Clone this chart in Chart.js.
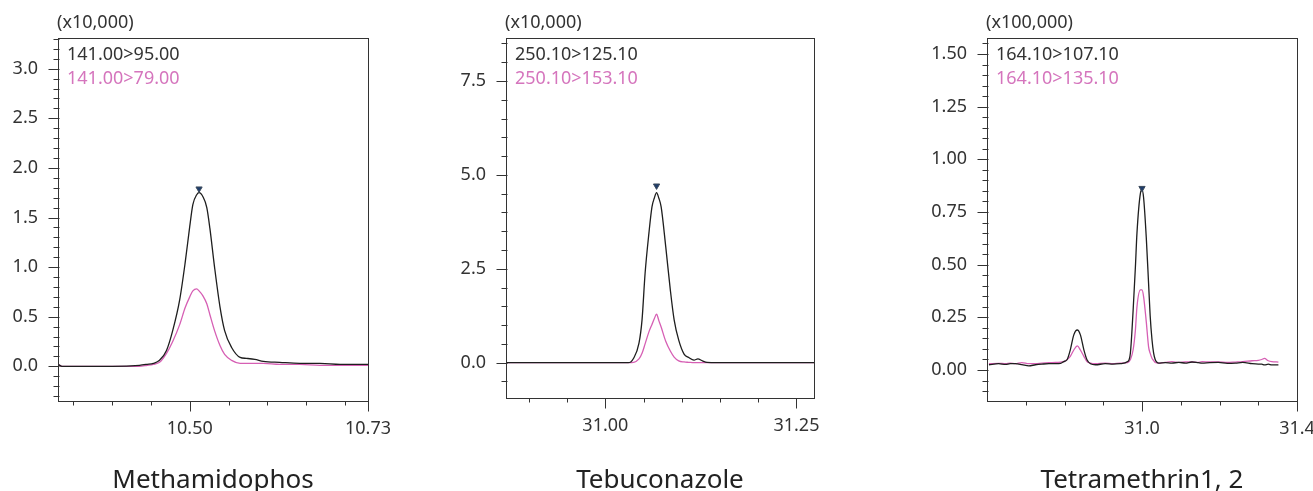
<!DOCTYPE html>
<html>
<head>
<meta charset="utf-8">
<script src="https://cdn.jsdelivr.net/npm/chart.js@4.4.1/dist/chart.umd.min.js"></script>
<style>
  body { margin: 0; background: #fff; width: 1313px; height: 491px; overflow: hidden; position: relative; }
  canvas { position: absolute; top: 0; }
</style>
</head>
<body>
<canvas id="c1" width="420" height="491" style="left:0px"></canvas>
<canvas id="c2" width="420" height="491" style="left:440px"></canvas>
<canvas id="c3" width="433" height="491" style="left:880px"></canvas>
<script>
// --- data ---
const titles = ['Methamidophos', 'Tebuconazole', 'Tetramethrin1, 2'];
const factors = ['(x10,000)', '(x10,000)', '(x100,000)'];
const transitions = [
  ['141.00>95.00', '141.00>79.00'],
  ['250.10>125.10', '250.10>153.10'],
  ['164.10>107.10', '164.10>135.10']
];

const methX  = [10.33, 10.335, 10.36, 10.40, 10.435, 10.445, 10.453, 10.461, 10.470, 10.478, 10.487, 10.494, 10.500, 10.504, 10.509, 10.512, 10.517, 10.522, 10.526, 10.532, 10.539, 10.545, 10.554, 10.565, 10.573, 10.584, 10.595, 10.616, 10.642, 10.668, 10.694, 10.73];
const meth95 = [0.02, 0.00, 0.00, 0.00, 0.01, 0.02, 0.03, 0.06, 0.16, 0.36, 0.67, 1.04, 1.41, 1.63, 1.73, 1.75, 1.71, 1.60, 1.39, 1.00, 0.60, 0.36, 0.19, 0.09, 0.08, 0.07, 0.05, 0.04, 0.03, 0.03, 0.02, 0.02];
const meth79 = [0.02, 0.00, 0.00, 0.00, 0.00, 0.01, 0.02, 0.04, 0.13, 0.25, 0.42, 0.59, 0.70, 0.76, 0.78, 0.76, 0.71, 0.63, 0.52, 0.36, 0.21, 0.12, 0.06, 0.03, 0.03, 0.03, 0.03, 0.02, 0.02, 0.01, 0.01, 0.01];

const tebuX   = [30.87, 31.00, 31.030, 31.037, 31.044, 31.048, 31.052, 31.057, 31.061, 31.064, 31.067, 31.070, 31.073, 31.079, 31.085, 31.090, 31.096, 31.103, 31.109, 31.116, 31.121, 31.127, 31.133, 31.146, 31.273];
const tebu125 = [0, 0, 0.00, 0.12, 0.52, 1.14, 2.38, 3.45, 4.15, 4.38, 4.53, 4.38, 4.15, 3.09, 1.94, 1.14, 0.60, 0.23, 0.14, 0.07, 0.10, 0.05, 0.01, 0, 0];
const tebu153 = [0, 0, 0.00, 0.01, 0.10, 0.25, 0.50, 0.82, 1.02, 1.17, 1.29, 1.12, 0.95, 0.57, 0.31, 0.15, 0.05, 0.02, 0.01, 0.00, 0.00, 0, 0, 0, 0];

const tetraX   = [30.605, 30.63, 30.648, 30.66, 30.673, 30.69, 30.708, 30.725, 30.742, 30.76, 30.777, 30.79, 30.798, 30.807, 30.815, 30.824, 30.833, 30.841, 30.850, 30.858, 30.867, 30.88, 30.905, 30.925, 30.944, 30.963, 30.970, 30.977, 30.983, 30.987, 30.996, 31.000, 31.004, 31.011, 31.017, 31.021, 31.026, 31.030, 31.034, 31.039, 31.043, 31.06, 31.077, 31.095, 31.112, 31.129, 31.145, 31.155, 31.175, 31.197, 31.22, 31.241, 31.26, 31.284, 31.300, 31.309, 31.316, 31.326, 31.335, 31.352];
const tetra107 = [0.025, 0.03, 0.027, 0.03, 0.03, 0.026, 0.02, 0.025, 0.028, 0.03, 0.03, 0.032, 0.04, 0.05, 0.096, 0.167, 0.19, 0.167, 0.096, 0.049, 0.03, 0.025, 0.03, 0.028, 0.03, 0.04, 0.08, 0.28, 0.49, 0.65, 0.84, 0.855, 0.82, 0.63, 0.41, 0.26, 0.14, 0.08, 0.05, 0.036, 0.033, 0.035, 0.033, 0.036, 0.033, 0.038, 0.035, 0.033, 0.035, 0.036, 0.032, 0.033, 0.036, 0.03, 0.028, 0.028, 0.024, 0.028, 0.024, 0.024];
const tetra135 = [0.03, 0.032, 0.03, 0.033, 0.03, 0.035, 0.03, 0.03, 0.033, 0.035, 0.036, 0.038, 0.04, 0.05, 0.065, 0.095, 0.115, 0.095, 0.065, 0.04, 0.033, 0.03, 0.033, 0.03, 0.033, 0.035, 0.05, 0.095, 0.19, 0.30, 0.38, 0.38, 0.35, 0.23, 0.11, 0.08, 0.055, 0.045, 0.036, 0.034, 0.033, 0.036, 0.04, 0.036, 0.038, 0.038, 0.036, 0.04, 0.038, 0.038, 0.036, 0.038, 0.04, 0.044, 0.046, 0.05, 0.055, 0.044, 0.04, 0.038];

const peakX = [10.512, 31.067, 31.0];
const peakY = [1.79, 4.71, 0.863];

// axis ranges and labelled ticks
const xRange = [[10.33, 10.73], [30.87, 31.273], [30.6, 31.4]];
const xMinor = [0.05, 0.05, 0.1];
const xMajor = [[10.50, 10.73], [31.00, 31.25], [31.0, 31.4]];
const xDec = [2, 2, 1];
const yRange = [[-0.35, 3.31], [-0.94, 8.645], [-0.147, 1.576]];
const yMinor = [0.1, 0.5, 0.05];
const yMajor = [[0, 0.5, 1.0, 1.5, 2.0, 2.5, 3.0], [0, 2.5, 5.0, 7.5], [0, 0.25, 0.50, 0.75, 1.00, 1.25, 1.50]];
const yDec = [1, 1, 2];

const BLACK = '#1e1e1e';
const PINK = '#d65fb4';
const PINK_TEXT = '#d575bd';
const TEXT = '#333';

Chart.defaults.font.family = '"Noto Sans", sans-serif';
Chart.defaults.color = TEXT;

function tickList(lo, hi, step, majors) {
  const out = [];
  for (let k = Math.ceil(lo / step - 1e-6); k * step <= hi + 1e-9; k++) {
    const v = +(k * step).toFixed(4);
    if (v > lo + 1e-6) out.push(v);
  }
  majors.forEach(m => { if (!out.some(v => Math.abs(v - m) < 1e-6)) out.push(m); });
  return out.sort((a, b) => a - b);
}

const isMajor = (list, v) => list.some(m => Math.abs(m - v) < 1e-6);

// where each plot box sits inside its canvas
const boxes = [
  { left: 58, right: 368, bottom: 401, width: 420 },
  { left: 66, right: 374, bottom: 398, width: 420 },
  { left: 107, right: 417, bottom: 401, width: 433 }
];

function makeChart(id, i, xs, black, pink) {
  const box = boxes[i];

  const framePlugin = {
    id: 'frame' + i,
    afterDraw(chart) {
      const { ctx, chartArea: a, scales: { x, y } } = chart;
      ctx.save();
      ctx.strokeStyle = '#333';
      ctx.lineWidth = 1;
      const L = Math.round(a.left) + 0.5, T = Math.round(a.top) + 0.5;
      const R = Math.round(a.right) + 0.5, B = Math.round(a.bottom) + 0.5;
      ctx.strokeRect(L, T, R - L, B - T);
      ctx.beginPath();
      y.ticks.forEach(t => {
        const py = Math.round(y.getPixelForValue(t.value)) + 0.5;
        const len = isMajor(yMajor[i], t.value) ? 10 : 5;
        ctx.moveTo(L - len, py); ctx.lineTo(L + 1, py);
      });
      x.ticks.forEach(t => {
        const px = Math.round(x.getPixelForValue(t.value)) + 0.5;
        const len = isMajor(xMajor[i], t.value) ? 10 : 4;
        ctx.moveTo(px, B); ctx.lineTo(px, B + len);
      });
      ctx.stroke();

      ctx.font = '18px "Noto Sans"';
      ctx.textAlign = 'left';
      ctx.textBaseline = 'alphabetic';
      ctx.fillStyle = TEXT;
      ctx.fillText(factors[i], a.left - 1, a.top - 10.5);
      ctx.fillText(transitions[i][0], a.left + 9, a.top + 22);
      ctx.fillStyle = PINK_TEXT;
      ctx.fillText(transitions[i][1], a.left + 9, a.top + 46);
      ctx.restore();
    }
  };

  return new Chart(document.getElementById(id), {
    type: 'line',
    data: {
      datasets: [
        {
          type: 'scatter',
          data: [{ x: peakX[i], y: peakY[i] }],
          pointStyle: 'triangle', rotation: 180, pointRadius: 3.6,
          backgroundColor: '#1f3d6b', borderColor: '#3b4a5c', borderWidth: 1
        },
        {
          data: xs.map((v, k) => ({ x: v, y: black[k] })),
          borderColor: BLACK, borderWidth: 1.3, pointRadius: 0,
          cubicInterpolationMode: 'monotone'
        },
        {
          data: xs.map((v, k) => ({ x: v, y: pink[k] })),
          borderColor: PINK, borderWidth: 1.3, pointRadius: 0,
          cubicInterpolationMode: 'monotone'
        }
      ]
    },
    options: {
      responsive: false,
      animation: false,
      events: [],
      layout: { padding: { left: 0, top: 38, right: box.width - box.right, bottom: 0 } },
      plugins: {
        legend: { display: false },
        tooltip: { enabled: false },
        title: {
          display: true, text: titles[i], position: 'bottom', fullSize: false,
          color: '#222', font: { size: 26, weight: 'normal', lineHeight: 0.8 },
          padding: { top: 29.2, bottom: 0 }
        }
      },
      scales: {
        x: {
          type: 'linear', min: xRange[i][0], max: xRange[i][1],
          grid: { display: false, drawTicks: false },
          border: { display: false },
          afterBuildTicks: s => { s.ticks = tickList(xRange[i][0], xRange[i][1], xMinor[i], xMajor[i]).map(v => ({ value: v })); },
          afterFit: s => { s.height = 491 - box.bottom - 50; s.paddingLeft = 0; s.paddingRight = 0; },
          ticks: {
            autoSkip: false, maxRotation: 0, padding: 17, color: TEXT, font: { size: 18 },
            callback: v => isMajor(xMajor[i], v) ? v.toFixed(xDec[i]) : ''
          }
        },
        y: {
          type: 'linear', min: yRange[i][0], max: yRange[i][1],
          grid: { display: false, drawTicks: false },
          border: { display: false },
          afterBuildTicks: s => { s.ticks = tickList(yRange[i][0], yRange[i][1], yMinor[i], yMajor[i]).map(v => ({ value: v })); },
          afterFit: s => { s.width = box.left; s.paddingTop = 0; s.paddingBottom = 0; },
          ticks: {
            autoSkip: false, padding: 20, color: TEXT, font: { size: 18 },
            callback: v => isMajor(yMajor[i], v) ? v.toFixed(yDec[i]) : ''
          }
        }
      }
    },
    plugins: [framePlugin]
  });
}

makeChart('c1', 0, methX, meth95, meth79);
makeChart('c2', 1, tebuX, tebu125, tebu153);
makeChart('c3', 2, tetraX, tetra107, tetra135);
</script>
</body>
</html>
